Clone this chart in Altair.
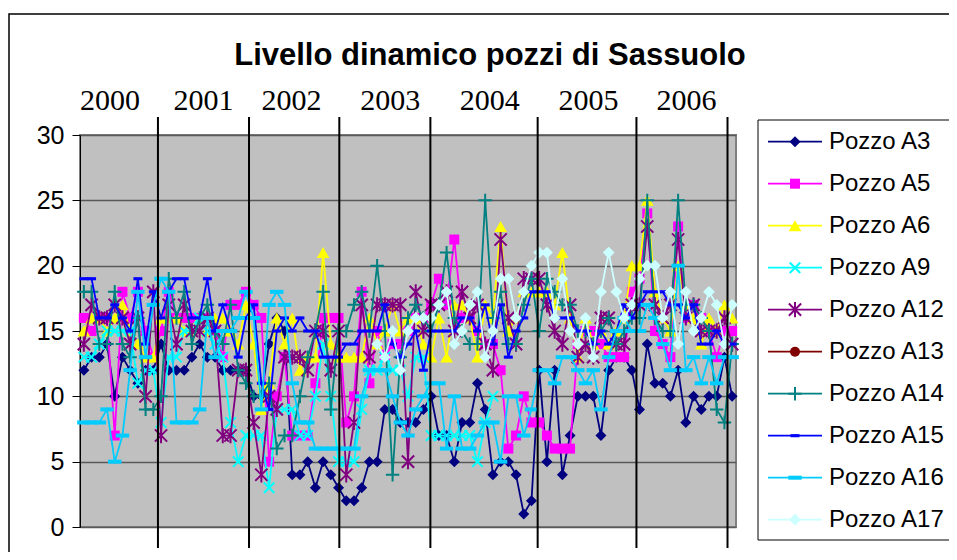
import altair as alt
import pandas as pd

title_text = "Livello dinamico pozzi di Sassuolo"
names = ["Pozzo A3", "Pozzo A5", "Pozzo A6", "Pozzo A9", "Pozzo A12",
         "Pozzo A13", "Pozzo A14", "Pozzo A15", "Pozzo A16", "Pozzo A17"]
colors = ["#000080", "#FF00FF", "#FFFF00", "#00FFFF", "#800080",
          "#800000", "#008080", "#0000FF", "#00CCFF", "#CCFFFF"]

years = ["2000", "2001", "2002", "2003", "2004", "2005", "2006"]
year_label_pos = [3.4, 15.5, 26.9, 39.7, 52.6, 65.4, 78.1]
year_bounds = [9.6, 21.4, 33.1, 44.9, 58.8, 71.6, 83.4]
y_ticks = [0, 5, 10, 15, 20, 25, 30]

a3 = [12, 13, 13, 14, 10, 13, 12, 11, 12, 12,
      14, 12, 12, 12, 13, 14, 13, 13, 12, 12, 12, 12,
      10, 10, 14, 16, 15, 4, 4, 5, 3, 5, 4, 3,
      2, 2, 3, 5, 5, 9, 9, 8, 8, 8, 9, 10,
      7, 7, 5, 8, 8, 11, 9, 4, 5, 5, 4, 1, 2,
      12, 5, 12, 4, 7, 10, 10, 10, 7, 12, 13, 13, 12,
      9, 14, 11, 11, 10, 12, 8, 10, 9, 10, 10, 13, 10]
a5 = [16, 15, 16, 16, 7, 18, 16, 18, 15, 13,
      15, 18, 16, 16, 16, 16, 16, 15, 13, 17, 17, 18,
      17, 16, 5, 10, 13, 7, 7, 7, 11, 16, 16, 16,
      8, 10, 18, 11, 15, 13, 14, 14, 15, 16, 16, 17,
      19, 17, 22, 16, 16, 15, 14, 14, 12, 6, 7, 10, 8,
      8, 7, 6, 6, 6, 14, 15, 15, 14, 13, 13, 13, 18,
      19, 24, 15, 14, 13, 23, 16, 17, 16, 15, 13, 15, 15]
a6 = [15, 16, 16, 15, 16, 17, 15, 14, 13, 13,
      16, 16, 16, 15, 15, 16, 15, 16, 16, 15, 14, 17,
      14, 9, 11, 16, 14, 16, 12, 13, 13, 21, 14, 13,
      13, 13, 13, 16, 14, 15, 17, 15, 16, 16, 14, 13,
      16, 13, 17, 17, 16, 13, 17, 16, 23, 15, 16, 18, 18,
      18, 18, 17, 21, 16, 13, 16, 14, 15, 14, 15, 16, 20,
      20, 25, 18, 16, 15, 20, 17, 16, 14, 16, 15, 17, 16]
a9 = [13, 13, 14, 15, 15, 15, 15, 11, 12, 12,
      8, 13, 13, 15, 15, 16, 15, 14, 13, 8, 5, 7,
      7, 7, 3, 9, 9, 9, 7, 7, 10, 14, 10, 5,
      5, 5, 9, 12, 12, 13, 12, 12, 10, 13, 13, 7,
      7, 7, 7, 7, 7, 5, 8, 10, None, None, None, None, None,
      None, None, None, None, None, None, None, None, None, None, None, None, None,
      None, None, None, None, None, None, None, None, None, None, None, None, None]
a12 = [14, 17, 16, 16, 17, 16, 14, 16, 10, 18,
       7, 17, 14, 17, 15, 15, 16, 15, 7, 7, 12, 12,
       8, 4, 10, 9, 13, 13, 13, 12, 15, 15, 12, 15,
       4, 8, 17, 13, 17, 17, 17, 17, 5, 18, 15, 17,
       17, 18, 15, 18, 16, 17, 14, 12, 22, 16, 14, 19, 19,
       19, 17, 15, 14, 17, 13, 14, 13, 16, 16, 14, 14, 17,
       17, 23, 17, 16, 17, 22, 16, 17, 15, 15, 15, 16, 14]
a13 = [None] * 85
a14 = [18, 18, 14, 14, 18, 14, 13, 16, 9, 9,
       10, 19, 16, 18, 14, 16, 17, 15, 14, 17, 12, 11,
       10, 10, 11, 6, 7, 7, 10, 13, 15, 18, 9, 15,
       15, 17, 18, 15, 20, 15, 4, 13, 16, 17, 16, 15,
       17, 21, 16, 15, 14, 14, 25, 16, 18, 14, 14, 17, 19,
       15, 19, 18, 17, 17, 15, 15, 14, 15, 16, 14, 15, 16,
       16, 25, 16, 15, 15, 25, 17, 17, 16, 15, 9, 8, 14]
a15 = [19, 19, 16, 16, 17, 16, 15, 19, 14, 18,
       16, 18, 19, 19, 16, 16, 19, 15, 17, 15, 13, 16,
       17, 11, 9, 15, 16, 15, 16, 15, 15, 13, 13, 13,
       14, 14, 15, 15, 15, 17, 14, 13, 14, 15, 12, 15,
       15, 15, 15, 16, 16, 15, 17, 14, 17, 13, 15, 16, 18,
       18, 18, 16, 16, 16, 15, 15, 14, 15, 14, 15, 17, 16,
       17, 18, 18, 18, 17, 17, 16, 17, 14, 14, 15, 14, 14]
a16 = [8, 8, 8, 9, 5, 7, 12, 18, 13, 17,
       19, 18, 8, 8, 8, 9, 16, 13, 15, 15, 16, 18,
       16, 9, 17, 18, 17, 11, 8, 8, 6, 6, 6, 6,
       6, 6, 10, 12, 12, 12, 10, 8, 7, 9, 10, 11,
       11, 6, 10, 6, 6, 7, 8, 8, 5, 10, 10, 7, 9,
       12, 12, 11, 13, 13, 12, 11, 12, 9, 13, 15, 16, 15,
       15, 17, 16, 14, 12, 20, 12, 13, 11, 13, 11, 13, 13]
a17 = [None, None, None, None, None, None, None, None, None, None,
       None, None, None, None, None, None, None, None, None, None, None, None,
       None, None, None, None, None, None, None, None, None, None, None, None,
       None, None, None, None, 14, 13, 15, 12, 15, 16, 16, 16,
       17, 18, 14, 15, 17, 18, 13, 15, 19, 19, 16, 18, 20,
       21, 21, 16, 19, 15, 14, 16, 13, 18, 21, 18, 16, 17,
       19, 20, 20, 16, 18, 14, 18, 15, 16, 18, 17, 14, 17]
series = [a3, a5, a6, a9, a12, a13, a14, a15, a16, a17]

# marker styles (shape, size, filled, strokeWidth)
markers = [
    ("diamond", 121, True, 0),
    ("square", 100, True, 0),
    ("triangle-up", 160, True, 0),
    ("M-1,-1L1,1M-1,1L1,-1", 110, False, 2),
    ("M-1,-1L1,1M-1,1L1,-1M0,-1.25L0,1.25", 150, False, 2),
    ("circle", 100, True, 0),
    ("M-1,0L1,0M0,-1L0,1", 180, False, 2),
    ("M-1,-0.35L1,-0.35L1,0.35L-1,0.35Z", 80, True, 0),
    ("M-1,-0.3L1,-0.3L1,0.3L-1,0.3Z", 180, True, 0),
    ("diamond", 140, True, 0),
]

W, H = 656, 392
x_scale = alt.Scale(domain=[-0.5, 84.5], nice=False, zero=False)
y_scale = alt.Scale(domain=[0, 30], nice=False, zero=True)
y_axis = alt.Axis(values=y_ticks, grid=True, gridColor="#595959", gridWidth=1.5,
                  domainColor="black", domainWidth=1, tickColor="black", tickSize=8,
                  labelFontSize=25, labelFont="Liberation Sans", labelColor="black",
                  labelPadding=8, title=None)

main_layers = []
for vals, col, (shp, sz, fil, sw) in zip(series, colors, markers):
    df = pd.DataFrame({"t": list(range(len(vals))), "v": vals}).dropna()
    if df.empty:
        continue
    base = alt.Chart(df).encode(
        x=alt.X("t:Q", scale=x_scale, axis=None),
        y=alt.Y("v:Q", scale=y_scale, axis=y_axis),
    )
    main_layers.append(base.mark_line(color=col, strokeWidth=1.8))
    if fil:
        main_layers.append(base.mark_point(shape=shp, size=sz, filled=True, color=col, opacity=1))
    else:
        main_layers.append(base.mark_point(shape=shp, size=sz, filled=False, color=col,
                                           strokeWidth=sw, opacity=1))

year_rules = alt.Chart(pd.DataFrame({"b": year_bounds})).mark_rule(
    color="black", strokeWidth=2
).encode(x=alt.X("b:Q", scale=x_scale, axis=None), y=alt.value(-18), y2=alt.value(413))

year_text = alt.Chart(pd.DataFrame({"p": year_label_pos, "year": years})).mark_text(
    font="Liberation Serif", fontSize=30, baseline="alphabetic", align="center", color="black"
).encode(x=alt.X("p:Q", scale=x_scale, axis=None), y=alt.value(-25), text="year:N")

main = alt.layer(*main_layers, year_rules, year_text)

one = pd.DataFrame({"k": [0]})
outer = alt.Chart(one).mark_rect(fillOpacity=0, stroke="black", strokeWidth=1.5).encode(
    x=alt.value(-71), x2=alt.value(1000), y=alt.value(-121), y2=alt.value(700))
title = alt.Chart(pd.DataFrame({"t": [title_text]})).mark_text(
    font="Liberation Sans", fontSize=31, fontWeight="bold", baseline="alphabetic",
    align="center", color="black"
).encode(x=alt.value(410), y=alt.value(-70), text="t:N")

leg_y = alt.Y("s:N", scale=alt.Scale(type="point", domain=names, range=[6.7, 384.7], padding=0),
              axis=None)
box = alt.Chart(one).mark_rect(fill="white", stroke="black", strokeWidth=1).encode(
    x=alt.value(678), x2=alt.value(1000), y=alt.value(-15), y2=alt.value(405))
leg_layers = [box]
for name, col, (shp, sz, fil, sw) in zip(names, colors, markers):
    d = pd.DataFrame({"s": [name]})
    leg_layers.append(alt.Chart(d).mark_rule(color=col, strokeWidth=1.8).encode(
        x=alt.value(688), x2=alt.value(742), y=leg_y))
    if fil:
        pt = alt.Chart(d).mark_point(shape=shp, size=sz, filled=True, color=col, opacity=1)
    else:
        pt = alt.Chart(d).mark_point(shape=shp, size=sz, filled=False, color=col,
                                     strokeWidth=sw, opacity=1)
    leg_layers.append(pt.encode(x=alt.value(715), y=leg_y))
leg_layers.append(alt.Chart(pd.DataFrame({"s": names})).mark_text(
    font="Liberation Sans", fontSize=24, align="left", baseline="middle", color="black"
).encode(x=alt.value(749), y=leg_y, text="s:N"))
legend = alt.layer(*leg_layers)

chart = alt.layer(outer, title, main, legend).resolve_scale(
    y="independent"
).properties(
    width=W, height=H,
    autosize=alt.AutoSizeParams(type="none"),
    padding={"left": 72, "top": 127, "right": 213, "bottom": 25},
).configure_view(fill="#C0C0C0", stroke="#808080", strokeWidth=2)

chart.save("out.html", embed_options={"renderer": "svg", "actions": False})
